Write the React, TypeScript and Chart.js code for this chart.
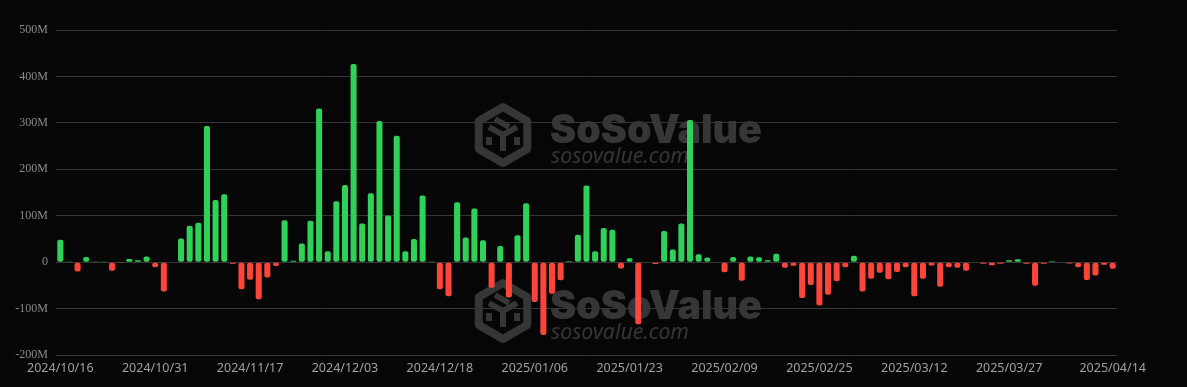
import React, { useEffect, useRef } from 'react';
import { Chart, registerables } from 'chart.js';

Chart.register(...registerables);

// Trading dates (category axis)
const DATES: string[] = [
  '2024/10/16', '2024/10/17', '2024/10/18', '2024/10/21', '2024/10/22', '2024/10/23', '2024/10/24', '2024/10/25', '2024/10/28', '2024/10/29', '2024/10/30', '2024/10/31',
  '2024/11/01', '2024/11/04', '2024/11/05', '2024/11/06', '2024/11/07', '2024/11/08', '2024/11/11', '2024/11/12', '2024/11/13', '2024/11/14', '2024/11/17',
  '2024/11/18', '2024/11/19', '2024/11/20', '2024/11/21', '2024/11/22', '2024/11/25', '2024/11/26', '2024/11/27', '2024/11/29', '2024/12/02', '2024/12/03',
  '2024/12/04', '2024/12/05', '2024/12/06', '2024/12/09', '2024/12/10', '2024/12/11', '2024/12/12', '2024/12/13', '2024/12/16', '2024/12/17', '2024/12/18',
  '2024/12/19', '2024/12/20', '2024/12/23', '2024/12/24', '2024/12/26', '2024/12/27', '2024/12/30', '2024/12/31', '2025/01/02', '2025/01/03', '2025/01/06',
  '2025/01/07', '2025/01/08', '2025/01/10', '2025/01/13', '2025/01/14', '2025/01/15', '2025/01/16', '2025/01/17', '2025/01/21', '2025/01/22', '2025/01/23',
  '2025/01/24', '2025/01/27', '2025/01/28', '2025/01/29', '2025/01/30', '2025/01/31', '2025/02/03', '2025/02/04', '2025/02/05', '2025/02/06', '2025/02/09',
  '2025/02/10', '2025/02/11', '2025/02/12', '2025/02/13', '2025/02/14', '2025/02/18', '2025/02/19', '2025/02/20', '2025/02/21', '2025/02/24', '2025/02/25',
  '2025/02/26', '2025/02/27', '2025/02/28', '2025/03/03', '2025/03/04', '2025/03/05', '2025/03/06', '2025/03/07', '2025/03/10', '2025/03/11', '2025/03/12',
  '2025/03/13', '2025/03/14', '2025/03/17', '2025/03/18', '2025/03/19', '2025/03/20', '2025/03/21', '2025/03/24', '2025/03/25', '2025/03/26', '2025/03/27',
  '2025/03/28', '2025/03/31', '2025/04/01', '2025/04/02', '2025/04/03', '2025/04/04', '2025/04/07', '2025/04/08', '2025/04/09', '2025/04/10', '2025/04/11', '2025/04/14',
];

// Daily net inflow, in millions (USD)
const NET_INFLOW_M: number[] = [
  48, 1.5, -20, 11, 1.5, 1.5, -18.5, -2, 7, 4, 12, -11,
  -63, 0, 51, 78.5, 85, 293, 134, 146, -3.5, -58.5, -38,
  -80, -33, -8.5, 90, 3, 40, 89, 331, 23.5, 131, 166,
  427, 83, 148.5, 304, 100.7, 272, 23.5, 50, 143.5, 1.5, -58.5,
  -73.5, 129, 53, 115.7, 47, -55, 35, -76, 58, 127, -85.7,
  -157, -68, -39, 2, 59, 165, 23.5, 73.5, 70, -13.5, 8.5,
  -134, 0, -4, 67, 27, 83, 306, 17, 10, 0, -22,
  11, -40, 12, 10.7, 4, 18, -12, -8, -77, -49, -93.5,
  -70, -41, -11, 14, -63, -36, -23, -37, -21, -11, -73.5,
  -36, -7, -53, -11, -12, -18.5, 0, -3.5, -6.5, -3.5, 4,
  6.5, -3.5, -51, -3.5, 2, 0, -3, -11, -38.5, -29, -5.5, -14,
];

const TICK_DATES: string[] = [
  '2024/10/16', '2024/10/31', '2024/11/17', '2024/12/03', '2024/12/18', '2025/01/06',
  '2025/01/23', '2025/02/09', '2025/02/25', '2025/03/12', '2025/03/27', '2025/04/14',
];

const Y_MIN = -200;
const Y_MAX = 500;
const Y_STEP = 100;

const GREEN = '#30D158';
const RED = '#FF453A';
const BG = '#060606';
const WM = '#363636';

const watermarkPlugin = {
  id: 'sosoWatermark',
  beforeDatasetsDraw(chart: any) {
    const ctx: CanvasRenderingContext2D = chart.ctx;
    const marks = [
      { cx: 503, cy: 135 },
      { cx: 503, cy: 311 },
    ];
    ctx.save();
    for (const m of marks) {
      // hexagon logo
      const r = 28;
      ctx.strokeStyle = WM;
      ctx.lineWidth = 8;
      ctx.lineJoin = 'round';
      ctx.beginPath();
      for (let k = 0; k < 6; k++) {
        const a = (Math.PI / 180) * (-90 + k * 60);
        const px = m.cx + r * Math.cos(a);
        const py = m.cy + r * Math.sin(a);
        if (k === 0) ctx.moveTo(px, py);
        else ctx.lineTo(px, py);
      }
      ctx.closePath();
      ctx.stroke();
      // inner cube strokes
      ctx.lineWidth = 6;
      ctx.lineCap = 'butt';
      ctx.beginPath();
      ctx.moveTo(m.cx - 14, m.cy - 8);
      ctx.lineTo(m.cx, m.cy);
      ctx.lineTo(m.cx + 14, m.cy - 8);
      ctx.moveTo(m.cx, m.cy);
      ctx.lineTo(m.cx, m.cy + 16);
      ctx.moveTo(m.cx - 8, m.cy - 16);
      ctx.lineTo(m.cx + 6, m.cy - 8);
      ctx.moveTo(m.cx - 14, m.cy + 2);
      ctx.lineTo(m.cx - 14, m.cy + 10);
      ctx.moveTo(m.cx + 14, m.cy + 2);
      ctx.lineTo(m.cx + 14, m.cy + 10);
      ctx.stroke();

      // brand text
      ctx.fillStyle = WM;
      ctx.textBaseline = 'alphabetic';
      ctx.textAlign = 'left';
      ctx.font = '900 100px Inter';
      const w1 = ctx.measureText('SoSoValue').width;
      const s1 = (212 / w1) * 100;
      ctx.font = `900 ${s1}px Inter`;
      ctx.fillText('SoSoValue', 550, m.cy + 8);

      ctx.font = 'italic 100px "Noto Sans"';
      const w2 = ctx.measureText('sosovalue.com').width;
      const s2 = (138 / w2) * 100;
      ctx.font = `italic ${s2}px "Noto Sans"`;
      ctx.fillText('sosovalue.com', 551, m.cy + 28);
    }
    ctx.restore();
  },
};

export default function App() {
  const canvasRef = useRef<HTMLCanvasElement | null>(null);

  useEffect(() => {
    document.body.style.margin = '0';
    document.body.style.background = BG;
    const canvas = canvasRef.current;
    if (!canvas) return;
    const chart = new Chart(canvas, {
      type: 'bar',
      data: {
        labels: DATES,
        datasets: [
          {
            data: NET_INFLOW_M,
            backgroundColor: NET_INFLOW_M.map((v) => (v >= 0 ? GREEN : RED)),
            borderWidth: 0,
            borderRadius: 2,
            borderSkipped: false,
            categoryPercentage: 1,
            barPercentage: 0.7,
          },
        ],
      },
      options: {
        animation: false,
        responsive: false,
        devicePixelRatio: 1,
        layout: { padding: { top: 30, right: 70, left: 0, bottom: 0 } },
        plugins: {
          legend: { display: false },
          tooltip: { enabled: false },
        },
        scales: {
          x: {
            grid: { display: false, drawTicks: false },
            border: { display: false },
            ticks: {
              autoSkip: false,
              maxRotation: 0,
              minRotation: 0,
              padding: 6,
              color: '#a0a0a0',
              font: { family: '"Noto Sans"', size: 12.5 },
              callback: (_v: any, i: number) => (TICK_DATES.includes(DATES[i]) ? DATES[i] : ''),
            },
            afterFit: (s: any) => {
              s.height = 32;
            },
          },
          y: {
            min: Y_MIN,
            max: Y_MAX,
            grid: { color: '#363636', drawTicks: false, lineWidth: 1 },
            border: { display: false },
            ticks: {
              stepSize: Y_STEP,
              padding: 8,
              color: '#8a8a8a',
              font: { family: '"Liberation Serif"', size: 12 },
              callback: (v: any) => (Number(v) === 0 ? '0' : `${v}M`),
            },
            afterFit: (s: any) => {
              s.width = 56;
            },
          },
        },
      },
      plugins: [watermarkPlugin],
    });
    return () => chart.destroy();
  }, []);

  return (
    <div style={{ width: 1187, height: 387, background: BG }}>
      <canvas ref={canvasRef} width={1187} height={387} style={{ display: 'block' }} />
    </div>
  );
}
